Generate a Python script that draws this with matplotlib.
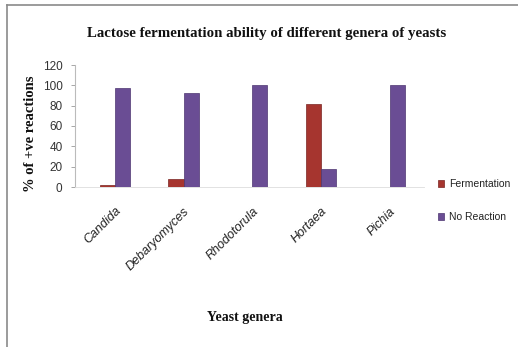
import matplotlib
matplotlib.use("Agg")
import matplotlib.pyplot as plt
from matplotlib.lines import Line2D
import numpy as np

genera = ["Candida", "Debaryomyces", "Rhodotorula", "Hortaea", "Pichia"]
fermentation = [2, 8, 0, 82, 0]
no_reaction = [97, 92, 100, 18, 100]
y_ticks = [0, 20, 40, 60, 80, 100, 120]

RED = "#a6352f"
PURPLE = "#6a4d94"
SANS = ["Liberation Sans Narrow", "Liberation Sans", "DejaVu Sans"]
SERIF = ["Liberation Serif", "DejaVu Serif"]

W, H = 518, 347
fig = plt.figure(figsize=(W / 100, H / 100), dpi=100)
fig.patch.set_facecolor("white")

# plot area in pixel units converted to figure fractions
left_px, right_px, top_px, bottom_px = 75, 424, 65, 187
ax = fig.add_axes([left_px / W, 1 - bottom_px / H,
                   (right_px - left_px) / W, (bottom_px - top_px) / H])

x = np.arange(len(genera))
bw = 0.22
ax.bar(x - bw / 2, fermentation, width=bw, color=RED, edgecolor="#7a2522",
       linewidth=0.5, label="Fermentation")
ax.bar(x + bw / 2, no_reaction, width=bw, color=PURPLE, edgecolor="#4d3670",
       linewidth=0.5, label="No Reaction")

ax.set_xlim(-0.58, len(genera) - 0.5)
ax.set_ylim(0, 120)
ax.set_yticks(y_ticks)
ax.set_yticklabels([str(v) for v in y_ticks], family=SANS, fontsize=8.5,
                   color="#333333")
ax.set_xticks(x)
ax.set_xticklabels(genera, family=SANS, style="italic", fontsize=9,
                   rotation=45, ha="right", rotation_mode="anchor",
                   color="#222222")
ax.tick_params(axis="y", length=3, width=0.6, color="#999999", pad=6)
ax.tick_params(axis="x", length=0, pad=13)

for s in ["top", "right"]:
    ax.spines[s].set_visible(False)
ax.spines["left"].set_color("#bbbbbb")
ax.spines["left"].set_linewidth(0.8)
ax.spines["bottom"].set_color("#dddddd")
ax.spines["bottom"].set_linewidth(0.6)

fig.text(267 / W, 1 - 33 / H, "Lactose fermentation ability of different genera of yeasts",
         family=SERIF, fontweight="bold", fontsize=10.7, ha="center", va="center",
         color="#111111")
fig.text(30 / W, 1 - 134 / H, "% of +ve reactions", family=SERIF,
         fontweight="bold", fontsize=10.5, rotation=90, ha="center", va="center",
         color="#111111")
fig.text(245 / W, 1 - 318 / H, "Yeast genera", family=SERIF,
         fontweight="bold", fontsize=10, ha="center", va="center",
         color="#111111")

leg = fig.legend(loc="upper left", bbox_to_anchor=(433 / W, 1 - 174 / H),
                 frameon=False, prop={"family": SANS, "size": 7.5},
                 handlelength=0.6, handleheight=0.6, handletextpad=0.4,
                 labelspacing=2.2, borderpad=0)
for t in leg.get_texts():
    t.set_color("#222222")

# frame lines along the left and top edges
fig.add_artist(Line2D([7 / W, 7 / W], [0, 1 - 5 / H], transform=fig.transFigure,
                      color="#8a8a8a", linewidth=1.2))
fig.add_artist(Line2D([7 / W, 1], [1 - 5 / H, 1 - 5 / H], transform=fig.transFigure,
                      color="#8a8a8a", linewidth=1.2))

fig.savefig("out.png", dpi=100)
